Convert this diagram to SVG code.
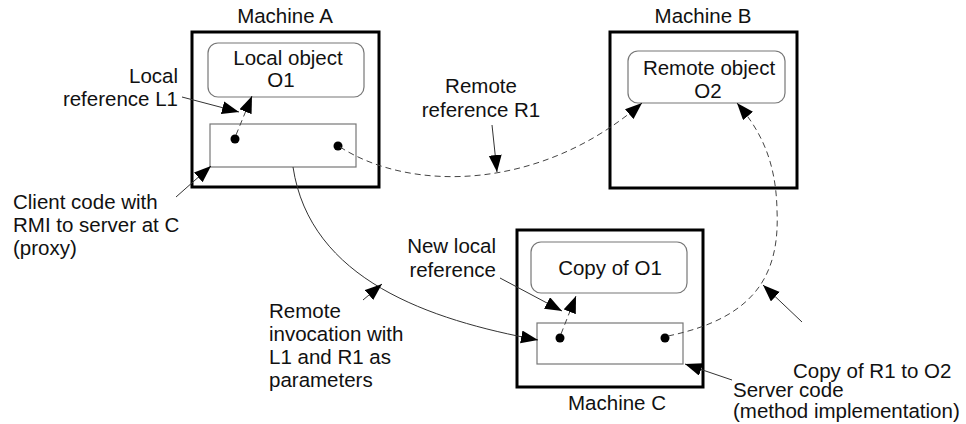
<svg xmlns="http://www.w3.org/2000/svg" width="966" height="424" viewBox="0 0 966 424">
<defs>
<marker id="ah" markerUnits="userSpaceOnUse" markerWidth="18" markerHeight="14" refX="17" refY="6.5" orient="auto">
<path d="M0,0 L17,6.5 L0,13 z" fill="#000"/>
</marker>
<style>
text{font-family:"Liberation Sans",Arial,sans-serif;font-size:20.5px;fill:#111}
.m{text-anchor:middle}
.r{text-anchor:end}
.machine{fill:#fff;stroke:#000;stroke-width:3}
.obj{fill:#fff;stroke:#777;stroke-width:1.2}
.code{fill:#fff;stroke:#777;stroke-width:1.2}
.dot{fill:#000}
.ln{fill:none;stroke:#333;stroke-width:1}
.ds{fill:none;stroke:#444;stroke-width:1;stroke-dasharray:6,4}
</style>
</defs>
<rect width="966" height="424" fill="#fff"/>

<g id="machineA">
<rect class="machine" x="192" y="32" width="187" height="155"/>
<text class="m" x="285" y="23">Machine A</text>
</g>
<g id="localObjectO1">
<rect class="obj" x="208" y="43" width="156" height="54" rx="10"/>
<text class="m" x="288" y="65">Local object</text>
<text class="m" x="281" y="87">O1</text>
</g>
<g id="clientCode">
<rect class="code" x="210" y="124" width="146" height="43"/>
<circle class="dot" cx="235" cy="139" r="4.5"/>
<circle class="dot" cx="338" cy="146" r="4.5"/>
</g>

<g id="machineB">
<rect class="machine" x="610" y="32" width="187" height="156"/>
<text class="m" x="703" y="23">Machine B</text>
</g>
<g id="remoteObjectO2">
<rect class="obj" x="628" y="51" width="157" height="52" rx="10"/>
<text class="m" x="709" y="75">Remote object</text>
<text class="m" x="708" y="98">O2</text>
</g>

<g id="machineC">
<rect class="machine" x="517" y="230" width="186" height="157"/>
<text class="m" x="617" y="410">Machine C</text>
</g>
<g id="copyOfO1">
<rect class="obj" x="531" y="242" width="156" height="51" rx="10"/>
<text class="m" x="610" y="275">Copy of O1</text>
</g>
<g id="serverCode">
<rect class="code" x="537" y="323" width="146" height="41"/>
<circle class="dot" cx="560" cy="338" r="4.5"/>
<circle class="dot" cx="665" cy="338" r="4.5"/>
</g>

<g id="labels">
<text class="r" x="178" y="83">Local</text>
<text class="r" x="178" y="106">reference L1</text>
<text class="m" x="481" y="93">Remote</text>
<text class="m" x="481" y="117">reference R1</text>
<text x="13" y="209">Client code with</text>
<text x="13" y="232">RMI to server at C</text>
<text x="13" y="255">(proxy)</text>
<text class="r" x="496" y="253">New local</text>
<text class="r" x="496" y="277">reference</text>
<text x="269" y="318">Remote</text>
<text x="269" y="341">invocation with</text>
<text x="269" y="364">L1 and R1 as</text>
<text x="269" y="387">parameters</text>
<text x="793" y="378">Copy of R1 to O2</text>
<text x="733" y="397">Server code</text>
<text x="733" y="418">(method implementation)</text>
</g>

<g id="connectors">
<path class="ln" d="M182,97 L239,112" marker-end="url(#ah)"/>
<path class="ds" d="M236,135 L252,96" marker-end="url(#ah)"/>
<path class="ln" d="M176,197 L211,166" marker-end="url(#ah)"/>
<path class="ds" d="M340,147 C410,192 540,192 642,103" marker-end="url(#ah)"/>
<path class="ln" d="M492,125 L497,172" marker-end="url(#ah)"/>
<path class="ln" d="M293,167 C310,280 430,320 538,340" marker-end="url(#ah)"/>
<path class="ln" d="M363,300 L382,284" marker-end="url(#ah)"/>
<path class="ln" d="M500,278 L562,311" marker-end="url(#ah)"/>
<path class="ds" d="M561,334 L576,296" marker-end="url(#ah)"/>
<path class="ds" d="M668,336 C755,318 780,275 777,210 C776,160 760,130 737,103" marker-end="url(#ah)"/>
<path class="ln" d="M802,322 L763,285" marker-end="url(#ah)"/>
<path class="ln" d="M732,380 L685,364" marker-end="url(#ah)"/>
</g>
</svg>
